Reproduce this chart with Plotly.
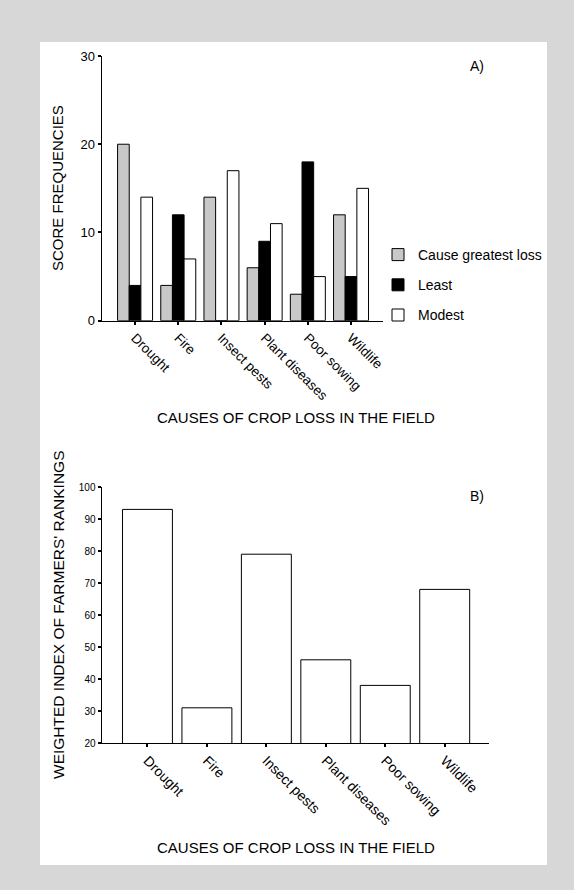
import plotly.graph_objects as go

# ---- data ----
categories = ["Drought", "Fire", "Insect pests", "Plant diseases", "Poor sowing", "Wildlife"]
greatest_loss = [20, 4, 14, 6, 3, 12]
least = [4, 12, 0, 9, 18, 5]
modest = [14, 7, 17, 11, 5, 15]
weighted_index = [93, 31, 79, 46, 38, 68]
series_names = ["Cause greatest loss", "Least", "Modest"]

W, H = 574, 890
def fx(px): return px / W
def fy(py): return 1 - py / H

FONT = "Liberation Sans, Arial, Helvetica, sans-serif"

fig = go.Figure()

colors = ["#c8c8c8", "#000000", "#ffffff"]
for name, vals, col in zip(series_names, [greatest_loss, least, modest], colors):
    fig.add_trace(go.Bar(
        x=categories, y=vals, name=name, xaxis="x", yaxis="y",
        marker=dict(color=col, line=dict(color="black", width=1)),
        legendgroup=name,
    ))

fig.add_trace(go.Bar(
    x=categories, y=weighted_index, xaxis="x2", yaxis="y2", showlegend=False,
    marker=dict(color="white", line=dict(color="black", width=1)), width=0.84,
))

axis_common = dict(showline=True, linecolor="black", linewidth=1, ticks="outside",
                   ticklen=3, tickwidth=2, tickcolor="black", showgrid=False,
                   zeroline=False, automargin=False,
                   tickfont=dict(family=FONT, size=13, color="black"))

fig.update_layout(
    template="none",
    width=W, height=H,
    margin=dict(l=0, r=0, t=0, b=0, pad=0),
    paper_bgcolor="#d7d7d7",
    plot_bgcolor="rgba(0,0,0,0)",
    barmode="group", bargap=0.19, bargroupgap=0,
    font=dict(family=FONT, color="black"),
    xaxis=dict(axis_common, domain=[fx(101.5), fx(383)], anchor="y",
               type="category", range=[-0.777, 5.74], tickangle=45,
               tickfont=dict(family=FONT, size=13.5, color="black")),
    yaxis=dict(axis_common, domain=[fy(320.7), fy(56)], anchor="x",
               range=[0, 30], tickvals=[0, 10, 20, 30]),
    xaxis2=dict(axis_common, domain=[fx(101.5), fx(489)], anchor="y2",
                type="category", range=[-0.773, 5.745], tickangle=45,
                tickfont=dict(family=FONT, size=14, color="black")),
    yaxis2=dict(axis_common, domain=[fy(743), fy(487)], anchor="x2",
                range=[20, 100], dtick=10,
                tickfont=dict(family=FONT, size=10, color="black")),
    legend=dict(x=fx(378), y=fy(239), xanchor="left", yanchor="top",
                font=dict(family=FONT, size=14, color="black"),
                bgcolor="rgba(0,0,0,0)", tracegroupgap=9, itemwidth=30),
    shapes=[dict(type="rect", xref="paper", yref="paper", layer="below",
                 x0=fx(40), x1=fx(547), y0=fy(865), y1=fy(42),
                 fillcolor="white", line=dict(width=0))],
    annotations=[
        dict(text="A)", x=fx(477), y=fy(66), xref="paper", yref="paper",
             xanchor="center", yanchor="middle", showarrow=False, font=dict(size=14)),
        dict(text="B)", x=fx(477), y=fy(496), xref="paper", yref="paper",
             xanchor="center", yanchor="middle", showarrow=False, font=dict(size=14)),
        dict(text="CAUSES OF CROP LOSS IN THE FIELD", x=fx(296), y=fy(417),
             xref="paper", yref="paper", xanchor="center", yanchor="middle",
             showarrow=False, font=dict(size=15)),
        dict(text="CAUSES OF CROP LOSS IN THE FIELD", x=fx(296), y=fy(847),
             xref="paper", yref="paper", xanchor="center", yanchor="middle",
             showarrow=False, font=dict(size=15)),
        dict(text="SCORE FREQUENCIES", x=fx(58), y=fy(188), textangle=-90,
             xref="paper", yref="paper", xanchor="center", yanchor="middle",
             showarrow=False, font=dict(size=15)),
        dict(text="WEIGHTED INDEX OF FARMERS' RANKINGS", x=fx(58), y=fy(615),
             textangle=-90, xref="paper", yref="paper", xanchor="center",
             yanchor="middle", showarrow=False, font=dict(size=15.5)),
    ],
)

fig.write_html(
    "out.html",
    config={"displayModeBar": False},
    post_script="document.body.style.margin='0';document.body.style.background='#d7d7d7';",
)
